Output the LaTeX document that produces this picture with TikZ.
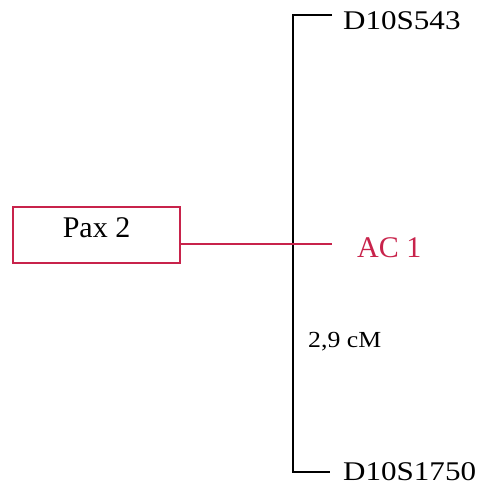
\documentclass[tikz,border=0pt]{standalone}
\usepackage{fontspec}
\setmainfont{Liberation Serif}
\usepackage{tikz}
\usetikzlibrary{positioning}
\definecolor{mapred}{RGB}{200,35,75}

\tikzset{
  mapline/.style={line width=1.6pt,black},
  linkline/.style={line width=1.4pt,color=mapred},
  locus/.style={font=\fontsize{27}{30}\selectfont,xscale=1.15,anchor=west,inner xsep=0pt,inner ysep=0pt},
}

\begin{document}
\begin{tikzpicture}[x=1pt,y=-1pt]
    \useasboundingbox (0,0) rectangle (480,494);
    % spine of the map
    \coordinate (spine) at (293,0);
    \coordinate (topend) at (332,15);
    \coordinate (botend) at (330,472);
    \node [locus] (d543) at (343,21) {D10S543};
    \node [locus] (d1750) at (343,471.5) {D10S1750};
    \draw [mapline] (topend) -- (topend -| spine) -- (botend -| spine) -- (botend);
    % gene box and linked marker
    \node [draw=mapred,line width=1.4pt,minimum width=167pt,minimum height=56pt,
           font=\fontsize{30}{32}\selectfont,text depth=14pt,inner sep=0pt] (pax) at (96.5,235) {Pax 2};
    \coordinate (acend) at (332,244);
    \node [font=\fontsize{30}{32}\selectfont,text=mapred,inner sep=0pt,anchor=west] (ac1) at (357,247.5) {AC 1};
    \draw [linkline] (pax.east |- acend) -- (acend);
    \node [font=\fontsize{23}{26}\selectfont,xscale=1.12,anchor=base west,inner sep=0pt] (dist) at (308,347) {2,9 cM};
\end{tikzpicture}
\end{document}
